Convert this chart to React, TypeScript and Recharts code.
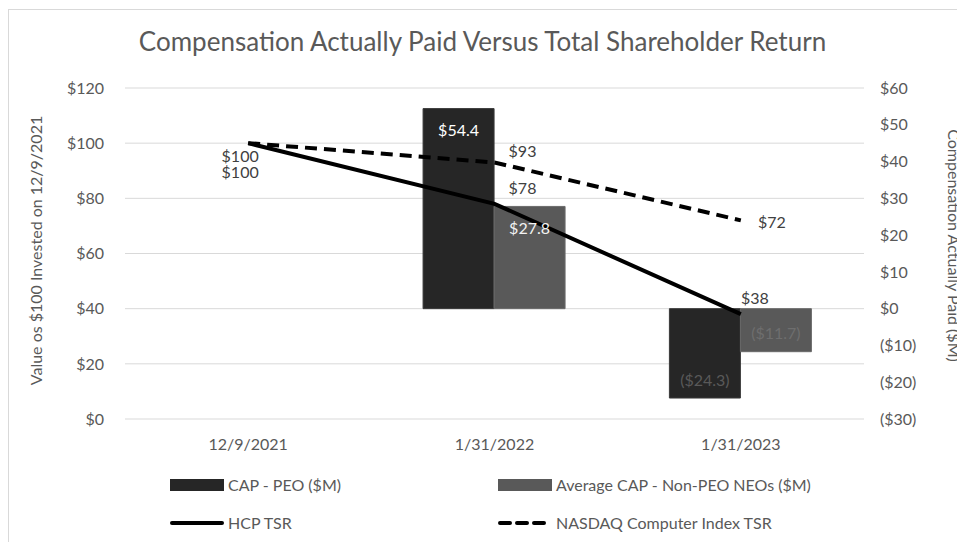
import {
  ComposedChart,
  Bar,
  Line,
  XAxis,
  YAxis,
  CartesianGrid,
  LabelList,
} from 'recharts'

const dates = ['12/9/2021', '1/31/2022', '1/31/2023']
const capPeo = [null, 54.4, -24.3]
const capNonPeo = [null, 27.8, -11.7]
const hcpTsr = [100, 78, 38]
const nasdaqTsr = [100, 93, 72]
const leftTicks = [0, 20, 40, 60, 80, 100, 120]
const rightTicks = [-30, -20, -10, 0, 10, 20, 30, 40, 50, 60]

// manual label offsets (Excel placed these by hand)
const hcpLabelOffset = [
  [-8, 28],
  [28, -16],
  [14, -17],
]
const nasdaqLabelOffset = [
  [-8, 12],
  [28, -12],
  [31, 1],
]

const FONT = 'Lato, "Open Sans", sans-serif'
const TEXT = '#595959'

const chartData = dates.map((date, i) => ({
  date,
  capPeo: capPeo[i],
  capNonPeo: capNonPeo[i],
  hcpTsr: hcpTsr[i],
  nasdaqTsr: nasdaqTsr[i],
}))

const money = (v: number) => (v < 0 ? `($${Math.abs(v)})` : `$${v}`)

function barLabel(fillPos: string, fillNeg: string) {
  return (props: any) => {
    const { x, y, width, height, value } = props
    if (value == null) return null
    const top = Math.min(y, y + height)
    const bottom = Math.max(y, y + height)
    const cy = value >= 0 ? top + 21 : bottom - 19
    return (
      <text
        x={x + width / 2}
        y={cy}
        textAnchor="middle"
        dominantBaseline="central"
        fontSize={16}
        fontFamily={FONT}
        fill={value >= 0 ? fillPos : fillNeg}
      >
        {money(value)}
      </text>
    )
  }
}

function lineLabel(offsets: number[][]) {
  return (props: any) => {
    const { x, y, value, index } = props
    const [dx, dy] = offsets[index]
    return (
      <text
        x={x + dx}
        y={y + dy}
        textAnchor="middle"
        dominantBaseline="central"
        fontSize={16}
        fontFamily={FONT}
        fill="#404040"
      >
        {money(value)}
      </text>
    )
  }
}

const tickStyle = { fontSize: 16, fill: TEXT, fontFamily: FONT }

export default function App() {
  return (
    <div
      style={{
        width: 957,
        height: 532,
        marginTop: 1,
        borderTop: '1px solid #d9d9d9',
        borderLeft: '1px solid #d9d9d9',
        position: 'relative',
        overflow: 'hidden',
        background: '#fff',
        fontFamily: FONT,
      }}
    >
      <div
        style={{
          position: 'absolute',
          top: 15,
          left: 0,
          width: 947,
          textAlign: 'center',
          fontSize: 26,
          color: TEXT,
        }}
      >
        Compensation Actually Paid Versus Total Shareholder Return
      </div>
      <ComposedChart
        width={956}
        height={450}
        data={chartData}
        margin={{ top: 78, right: 0, left: 0, bottom: 0 }}
        barCategoryGap="21%"
        barGap={0}
      >
        <CartesianGrid
          yAxisId="left"
          vertical={false}
          stroke="#d9d9d9"
          strokeWidth={1}
        />
        <XAxis
          dataKey="date"
          axisLine={false}
          tickLine={false}
          tick={tickStyle}
          tickMargin={14}
          height={41}
        />
        <YAxis
          yAxisId="left"
          domain={[0, 120]}
          ticks={leftTicks}
          axisLine={false}
          tickLine={false}
          tick={tickStyle}
          tickMargin={15}
          width={116}
          tickFormatter={(v) => `$${v}`}
          label={(p: any) => {
            const vb = p.viewBox
            const cx = 26
            const cy = vb.y + vb.height / 2 - 3
            return (
              <text
                x={cx}
                y={cy}
                transform={`rotate(-90 ${cx} ${cy})`}
                textAnchor="middle"
                dominantBaseline="central"
                fontSize={16}
                fontFamily={FONT}
                fill={TEXT}
              >
                Value os $100 Invested on 12/9/2021
              </text>
            )
          }}
        />
        <YAxis
          yAxisId="right"
          orientation="right"
          domain={[-30, 60]}
          ticks={rightTicks}
          axisLine={false}
          tickLine={false}
          tick={tickStyle}
          tickMargin={10}
          width={101}
          tickFormatter={(v) => money(v)}
          label={(p: any) => {
            const vb = p.viewBox
            const cx = 945
            const cy = vb.y + vb.height / 2 - 8
            return (
              <text
                x={cx}
                y={cy}
                transform={`rotate(90 ${cx} ${cy})`}
                textAnchor="middle"
                dominantBaseline="central"
                fontSize={16}
                fontFamily={FONT}
                fill={TEXT}
              >
                Compensation Actually Paid ($M)
              </text>
            )
          }}
        />
        <Bar yAxisId="right" dataKey="capPeo" fill="#262626" stroke="#3a3a3a" strokeWidth={1} isAnimationActive={false}>
          <LabelList dataKey="capPeo" content={barLabel('#ffffff', '#595959')} />
        </Bar>
        <Bar yAxisId="right" dataKey="capNonPeo" fill="#595959" stroke="#6a6a6a" strokeWidth={1} isAnimationActive={false}>
          <LabelList dataKey="capNonPeo" content={barLabel('#f2f2f2', '#6e6e6e')} />
        </Bar>
        <Line
          yAxisId="left"
          dataKey="hcpTsr"
          stroke="#000"
          strokeWidth={4}
          dot={false}
          type="linear"
          isAnimationActive={false}
        >
          <LabelList dataKey="hcpTsr" content={lineLabel(hcpLabelOffset)} />
        </Line>
        <Line
          yAxisId="left"
          dataKey="nasdaqTsr"
          stroke="#000"
          strokeWidth={4}
          strokeDasharray="12 7"
          dot={false}
          type="linear"
          isAnimationActive={false}
        >
          <LabelList dataKey="nasdaqTsr" content={lineLabel(nasdaqLabelOffset)} />
        </Line>
      </ComposedChart>
      <Legend />
    </div>
  )
}

function Legend() {
  const item = (left: number, top: number, swatch: any, label: string) => (
    <div
      style={{
        position: 'absolute',
        left,
        top,
        display: 'flex',
        alignItems: 'center',
        fontSize: 16,
        color: TEXT,
      }}
    >
      <div style={{ width: 54, marginRight: 4, display: 'flex', alignItems: 'center' }}>{swatch}</div>
      <span>{label}</span>
    </div>
  )
  const box = (c: string) => <div style={{ width: 54, height: 12, background: c }} />
  const line = (dashed: boolean) => (
    <svg width={54} height={6}>
      <line
        x1={2}
        y1={3}
        x2={52}
        y2={3}
        stroke="#000"
        strokeWidth={4}
        strokeLinecap="round"
        strokeDasharray={dashed ? '10 7' : undefined}
      />
    </svg>
  )
  return (
    <>
      {item(161, 465, box('#262626'), 'CAP - PEO ($M)')}
      {item(489, 465, box('#595959'), 'Average CAP - Non-PEO NEOs ($M)')}
      {item(161, 503, line(false), 'HCP TSR')}
      {item(489, 503, line(true), 'NASDAQ Computer Index TSR')}
    </>
  )
}
